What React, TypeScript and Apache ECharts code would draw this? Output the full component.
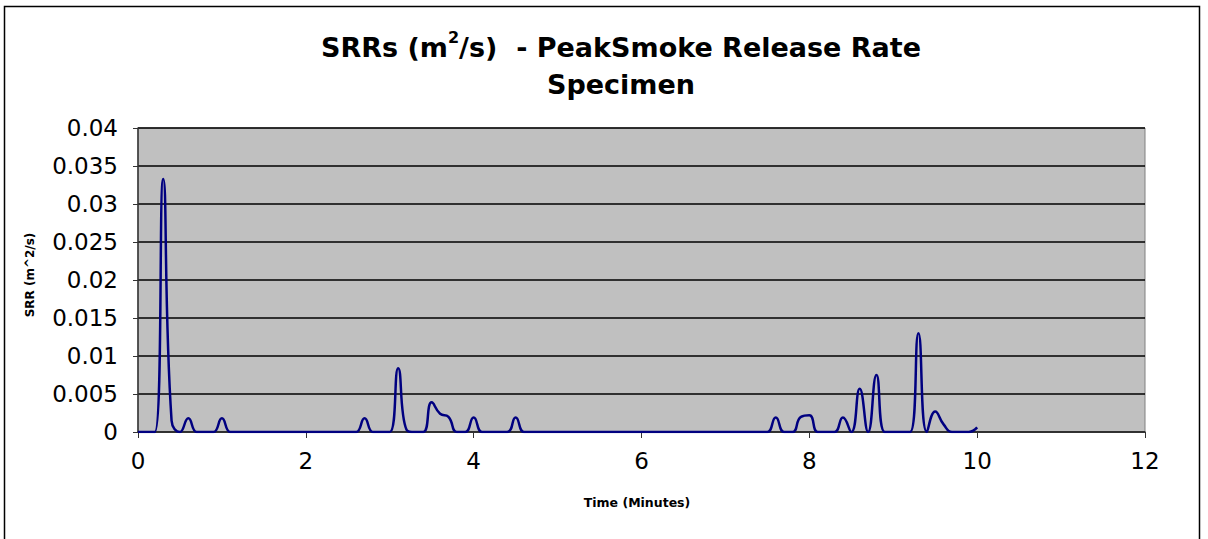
import React, { useEffect, useRef } from "react";
import * as echarts from "echarts";

const times = [0, 0.1, 0.2, 0.3, 0.4, 0.5, 0.6, 0.7, 0.8, 0.9, 1.0, 1.1, 1.2, 2.5, 2.6, 2.7, 2.8, 2.9, 3.0, 3.1, 3.2, 3.3, 3.4, 3.5, 3.6, 3.7, 3.8, 3.9, 4.0, 4.1, 4.2, 4.4, 4.5, 4.6, 4.7, 7.4, 7.5, 7.6, 7.7, 7.8, 7.9, 8.0, 8.1, 8.2, 8.3, 8.4, 8.5, 8.6, 8.7, 8.8, 8.9, 9.0, 9.1, 9.2, 9.3, 9.4, 9.5, 9.6, 9.7, 9.8, 9.9, 10.0];
const srr = [0, 0, 0, 0.0333, 0.0015, 0, 0.0018, 0, 0, 0, 0.0018, 0, 0, 0, 0, 0.0018, 0, 0, 0, 0.0084, 0.0003, 0, 0, 0.0039, 0.0024, 0.002, 0, 0, 0.0019, 0, 0, 0, 0.0019, 0, 0, 0, 0, 0.0019, 0, 0, 0.002, 0.0022, 0, 0, 0, 0.0019, 0, 0.0057, 0, 0.0075, 0, 0, 0, 0, 0.013, 0, 0.0027, 0.001, 0, 0, 0, 0.0006];
const xTicks = [0, 2, 4, 6, 8, 10, 12];
const yTicks = [0, 0.005, 0.01, 0.015, 0.02, 0.025, 0.03, 0.035, 0.04];

const FONT = "'DejaVu Sans', 'Liberation Sans', Arial, sans-serif";

export default function App() {
  const ref = useRef<HTMLDivElement>(null);
  useEffect(() => {
    if (!ref.current) return;
    const chart = echarts.init(ref.current, null, { renderer: "svg" });
    chart.setOption({
      animation: false,
      backgroundColor: "#ffffff",
      grid: {
        left: 138,
        right: 63,
        top: 128,
        bottom: 107,
        show: true,
        backgroundColor: "#C0C0C0",
        borderColor: "#808080",
        borderWidth: 1,
      },
      xAxis: {
        type: "value",
        min: xTicks[0],
        max: xTicks[xTicks.length - 1],
        interval: 2,
        axisLine: { show: true, onZero: false, lineStyle: { color: "#333", width: 1.5 } },
        axisTick: { show: true, length: 6, inside: false, lineStyle: { color: "#333" } },
        axisLabel: { fontFamily: FONT, fontSize: 23, color: "#000", margin: 17 },
        splitLine: { show: false },
      },
      yAxis: {
        type: "value",
        min: yTicks[0],
        max: yTicks[yTicks.length - 1],
        interval: 0.005,
        axisLine: { show: true, lineStyle: { color: "#333", width: 1.5 } },
        axisTick: { show: true, length: 5, inside: false, lineStyle: { color: "#333" } },
        axisLabel: {
          fontFamily: FONT,
          fontSize: 23,
          color: "#000",
          margin: 20,
          formatter: (v: number) => String(parseFloat(v.toFixed(3))),
        },
        splitLine: { show: true, lineStyle: { color: "#000", width: 1.5 } },
      },
      series: [
        {
          type: "line",
          data: times.map((t, i) => [t, srr[i]]),
          smooth: 0.5,
          showSymbol: false,
          lineStyle: { color: "#000080", width: 2.5 },
        },
      ],
      graphic: [
        {
          type: "rect",
          shape: { x: 4.5, y: 6.5, width: 1195, height: 540 },
          style: { fill: "none", stroke: "#000", lineWidth: 1.5 },
          silent: true,
          z: -1,
        },
        {
          type: "text",
          x: 621,
          y: 29,
          style: {
            text: "{a|SRRs (m}{sup|2}{a|/s)  - PeakSmoke Release Rate}\n{a|Specimen}",
            align: "center",
            verticalAlign: "top",
            rich: {
              a: { fontFamily: FONT, fontSize: 27, fontWeight: "bold", fill: "#000", lineHeight: 37 },
              sup: { fontFamily: FONT, fontSize: 16, fontWeight: "bold", fill: "#000", verticalAlign: "top", lineHeight: 30, padding: [0, 0, 10, 0] },
            },
          },
        },
        {
          type: "text",
          x: 637,
          y: 502,
          style: {
            text: "Time (Minutes)",
            align: "center",
            verticalAlign: "middle",
            fontFamily: FONT,
            fontSize: 12.5,
            fontWeight: "bold",
            fill: "#000",
          },
        },
        {
          type: "text",
          x: 30,
          y: 275,
          rotation: Math.PI / 2,
          style: {
            text: "SRR (m^2/s)",
            align: "center",
            verticalAlign: "middle",
            fontFamily: FONT,
            fontSize: 12,
            fontWeight: "bold",
            fill: "#000",
          },
        },
      ],
    });
    return () => chart.dispose();
  }, []);
  return (
    <div
      ref={ref}
      style={{ position: "absolute", left: 0, top: 0, width: 1208, height: 539 }}
    />
  );
}
